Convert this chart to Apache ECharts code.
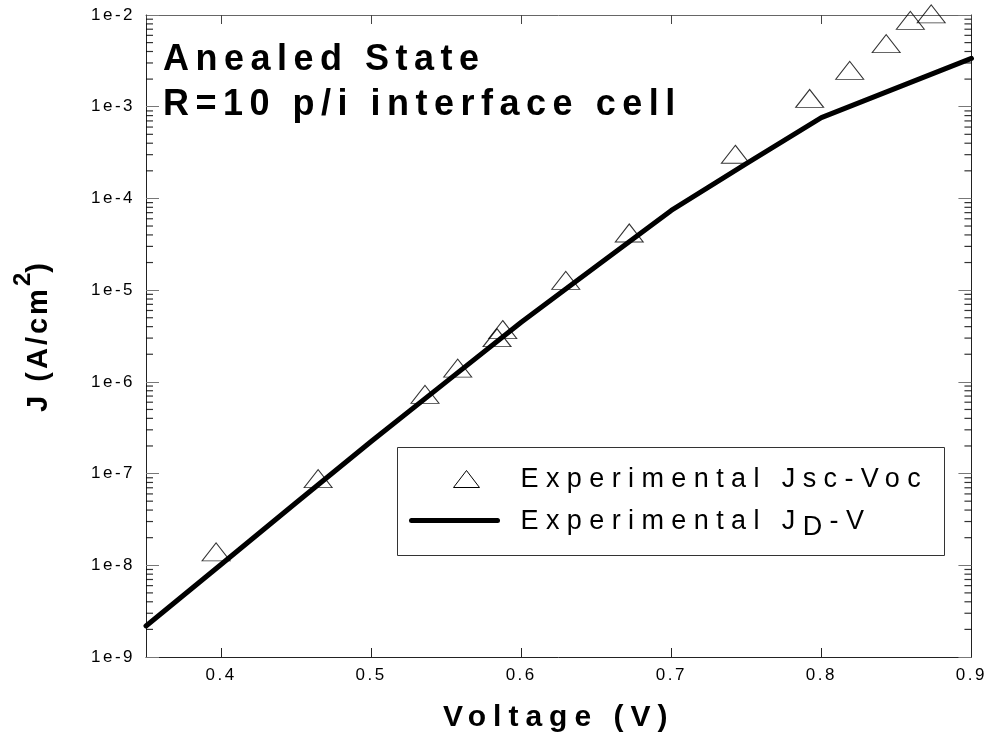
<!DOCTYPE html>
<html><head><meta charset="utf-8">
<script src="https://cdn.jsdelivr.net/npm/echarts@6/dist/echarts.min.js"></script>
<style>html,body{margin:0;padding:0;background:#fff}#chart{width:990px;height:745px}</style>
</head><body><div id="chart"></div>
<script>
// letter spacing (the original uses widely tracked text)
(function(){
  var proto = CanvasRenderingContext2D.prototype;
  var d = Object.getOwnPropertyDescriptor(proto, 'font');
  if (!d || !('letterSpacing' in proto)) return;
  Object.defineProperty(proto, 'font', {
    configurable: true,
    get: function(){ return d.get.call(this); },
    set: function(v){
      d.set.call(this, v);
      var m = /(\d+(?:\.\d+)?)px/.exec(v); var sz = m ? parseFloat(m[1]) : 12;
      var bold = /bold|[6-9]00/.test(v);
      var sp = 0;
      if (!bold && sz === 17) sp = 2.5;
      else if (!bold && sz === 27) sp = 7.4;
      else if (bold && sz === 36) sp = 6.5;
      else if (bold && sz === 30) sp = 7;
      else if (bold && sz === 29) sp = 3;
      try { this.letterSpacing = sp + 'px'; } catch(e) {}
    }
  });
})();

// ---- data ----
const jdV  = [0.35, 0.40, 0.45, 0.50, 0.55, 0.60, 0.65, 0.70, 0.75, 0.80, 0.90];
const jdJ  = [2.18e-9, 1.02e-8, 4.8e-8, 2.24e-7, 1.0e-6, 4.47e-6, 1.82e-5, 7.4e-5, 2.4e-4, 7.6e-4, 3.36e-3];
const vocV = [0.3967, 0.4647, 0.5359, 0.5577, 0.5839, 0.5877, 0.6297, 0.6720, 0.7427, 0.7922, 0.8189, 0.8432, 0.8593, 0.8732];
const jscJ = [1.40e-8, 8.8e-8, 7.3e-7, 1.41e-6, 3.03e-6, 3.72e-6, 1.28e-5, 4.2e-5, 3.03e-4, 1.23e-3, 2.49e-3, 4.87e-3, 8.73e-3, 1.03e-2];
const yDecades = [1e-9, 1e-8, 1e-7, 1e-6, 1e-5, 1e-4, 1e-3];
const minorMultipliers = [2, 3, 4, 5, 6, 7, 8, 9];
const xMin = 0.35, xMax = 0.9, yMin = 1e-9, yMax = 1e-2;

const FONT = 'Liberation Sans, Arial, Helvetica, sans-serif';
const minorVals = [];
yDecades.forEach(d => minorMultipliers.forEach(m => minorVals.push(m * d)));

const chart = echarts.init(document.getElementById('chart'), null, {renderer: 'canvas'});
const tickLabel = {color: '#000', fontSize: 17, fontFamily: FONT};
chart.setOption({
  animation: false,
  backgroundColor: '#fff',
  grid: {left: 146, right: 18, top: 15, bottom: 88, containLabel: false},
  xAxis: [{
    type: 'value', min: xMin, max: xMax, splitNumber: 6,
    name: 'Voltage (V)', nameLocation: 'middle', nameGap: 42,
    nameTextStyle: {fontSize: 30, fontWeight: 'bold', color: '#000', fontFamily: FONT},
    axisLine: {lineStyle: {color: '#222', width: 1}},
    axisTick: {inside: true, length: 9, lineStyle: {color: '#222'}},
    axisLabel: Object.assign({margin: 9, showMinLabel: false, formatter: v => v.toFixed(1)}, tickLabel),
    splitLine: {show: false}
  }, {
    type: 'value', min: xMin, max: xMax, splitNumber: 6, position: 'top',
    axisLine: {lineStyle: {color: '#666', width: 1}},
    axisTick: {inside: true, length: 9, lineStyle: {color: '#444'}},
    axisLabel: {show: false}, splitLine: {show: false}
  }],
  yAxis: [{
    type: 'log', logBase: 10, min: yMin, max: yMax, splitNumber: 7,
    name: '{m|J (A/cm}{s|2}{m|)}', nameLocation: 'middle', nameGap: 91, nameRotate: 90,
    nameTextStyle: {rich: {
      m: {fontSize: 29, fontWeight: 'bold', color: '#000', fontFamily: FONT, lineHeight: 44, verticalAlign: 'bottom'},
      s: {fontSize: 24, fontWeight: 'bold', color: '#000', fontFamily: FONT, lineHeight: 44, verticalAlign: 'top'}
    }},
    axisLine: {lineStyle: {color: '#222', width: 1}},
    axisTick: {inside: true, length: 13, lineStyle: {color: '#777'}},
    axisLabel: Object.assign({margin: 11, formatter: v => '1e' + Math.round(Math.log10(v))}, tickLabel),
    splitLine: {show: false}
  }, {
    type: 'log', logBase: 10, min: yMin, max: yMax, splitNumber: 7, position: 'right',
    axisLine: {lineStyle: {color: '#222', width: 1}},
    axisTick: {inside: true, length: 13, lineStyle: {color: '#777'}},
    axisLabel: {show: false}, splitLine: {show: false}
  }],
  series: [{
    name: 'Experimental JD-V', type: 'line', xAxisIndex: 0, yAxisIndex: 0,
    data: jdV.map((v, i) => [v, jdJ[i]]), showSymbol: false, symbol: 'none',
    lineStyle: {color: '#000', width: 5, cap: 'round', join: 'round'}, z: 3
  }, {
    name: 'Experimental Jsc-Voc', type: 'scatter', xAxisIndex: 0, yAxisIndex: 0,
    data: vocV.map((v, i) => [v, jscJ[i]]), symbol: 'triangle', symbolSize: [28, 18], clip: false,
    itemStyle: {color: 'rgba(0,0,0,0)', borderColor: '#000', borderWidth: 1}, z: 4
  }, {
    name: 'minorLeft', type: 'scatter', silent: true, clip: false,
    data: minorVals.map(v => [xMin, v]), symbol: 'rect', symbolSize: [7, 1.2], symbolOffset: [3.5, 0],
    itemStyle: {color: '#000'}, z: 1
  }, {
    name: 'minorRight', type: 'scatter', silent: true, clip: false,
    data: minorVals.map(v => [xMax, v]), symbol: 'rect', symbolSize: [7, 1.2], symbolOffset: [-3.5, 0],
    itemStyle: {color: '#000'}, z: 1
  }],
  graphic: [{
    type: 'text', left: 163, top: 38, z: 10,
    style: {text: 'Anealed State\nR=10 p/i interface cell', fill: '#000',
      font: 'bold 36px ' + FONT, lineHeight: 45}
  }, {
    type: 'group', left: 397, top: 447, z: 10,
    children: [{
      type: 'rect', shape: {x: 0, y: 0, width: 547, height: 108},
      style: {fill: '#fff', stroke: '#333', lineWidth: 1}
    }, {
      type: 'polygon', shape: {points: [[56, 40], [82, 40], [69, 23]]},
      style: {fill: 'none', stroke: '#000', lineWidth: 1}
    }, {
      type: 'line', shape: {x1: 14, y1: 73, x2: 100, y2: 73},
      style: {stroke: '#000', lineWidth: 5, lineCap: 'round'}
    }, {
      type: 'text', x: 123, y: 32,
      style: {text: 'Experimental Jsc-Voc', fill: '#000', font: '27px ' + FONT, verticalAlign: 'middle'}
    }, {
      type: 'text', x: 123, y: 57,
      style: {text: '{a|Experimental J}{b|D}{a|-V}',
        rich: {
          a: {fontSize: 27, fontFamily: FONT, fill: '#000', lineHeight: 40, verticalAlign: 'top'},
          b: {fontSize: 27, fontFamily: FONT, fill: '#000', lineHeight: 40, verticalAlign: 'bottom'}
        }}
    }]
  }]
});
</script></body></html>
